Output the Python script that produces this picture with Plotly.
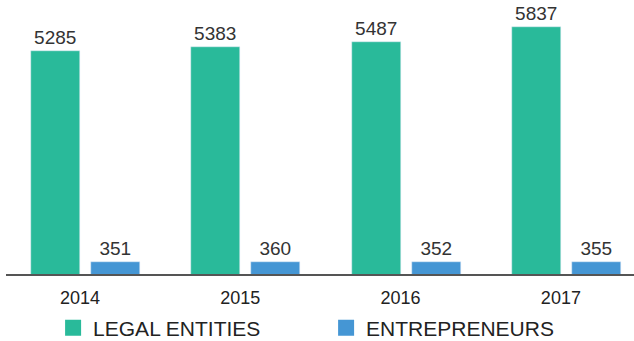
import plotly.graph_objects as go

years = ["2014", "2015", "2016", "2017"]
legal_entities = [5285, 5383, 5487, 5837]
entrepreneurs = [351, 360, 352, 355]

GREEN = "#29BA9A"
BLUE = "#4596D4"
FONT = "Liberation Sans, Arial, Helvetica, sans-serif"

idx = list(range(len(years)))

fig = go.Figure()
fig.add_trace(go.Bar(
    x=idx, y=legal_entities, name="LEGAL ENTITIES", marker_color=GREEN,
    offset=-0.34, width=0.306, text=legal_entities, textposition="outside",
    cliponaxis=False, showlegend=False,
    textfont=dict(size=19, color="#333333", family=FONT),
))
fig.add_trace(go.Bar(
    x=idx, y=entrepreneurs, name="ENTREPRENEURS", marker_color=BLUE,
    offset=0.034, width=0.306, text=entrepreneurs, textposition="outside",
    cliponaxis=False, showlegend=False,
    textfont=dict(size=19, color="#333333", family=FONT),
))
# legend entries
fig.add_trace(go.Scatter(x=[None], y=[None], mode="markers", name="LEGAL ENTITIES",
                         marker=dict(symbol="square", size=18, color=GREEN)))
fig.add_trace(go.Scatter(x=[None], y=[None], mode="markers", name="ENTREPRENEURS",
                         marker=dict(symbol="square", size=18, color=BLUE)))

fig.update_layout(
    width=634, height=341,
    margin=dict(l=6, r=0, t=0, b=67),
    plot_bgcolor="white", paper_bgcolor="white",
    font=dict(family=FONT, size=18, color="#333333"),
    bargap=0,
    legend=dict(orientation="h", x=0.075, xanchor="left",
                yref="container", y=0.038, yanchor="middle",
                font=dict(size=21, color="#222222"), itemsizing="trace",
                entrywidth=228, entrywidthmode="pixels", bgcolor="rgba(0,0,0,0)"),
    xaxis=dict(
        range=[-0.496, 3.421], tickmode="array",
        tickvals=[i - 0.035 for i in idx], ticktext=years, automargin=False,
        showgrid=False, zeroline=False, showline=True, linecolor="#555555", linewidth=2,
        ticks="", ticklabelstandoff=6, tickfont=dict(size=18, color="#222222"),
    ),
    yaxis=dict(range=[70, 6478], visible=False, showgrid=False, zeroline=False,
               automargin=False),
)

fig.write_html("out.html")
